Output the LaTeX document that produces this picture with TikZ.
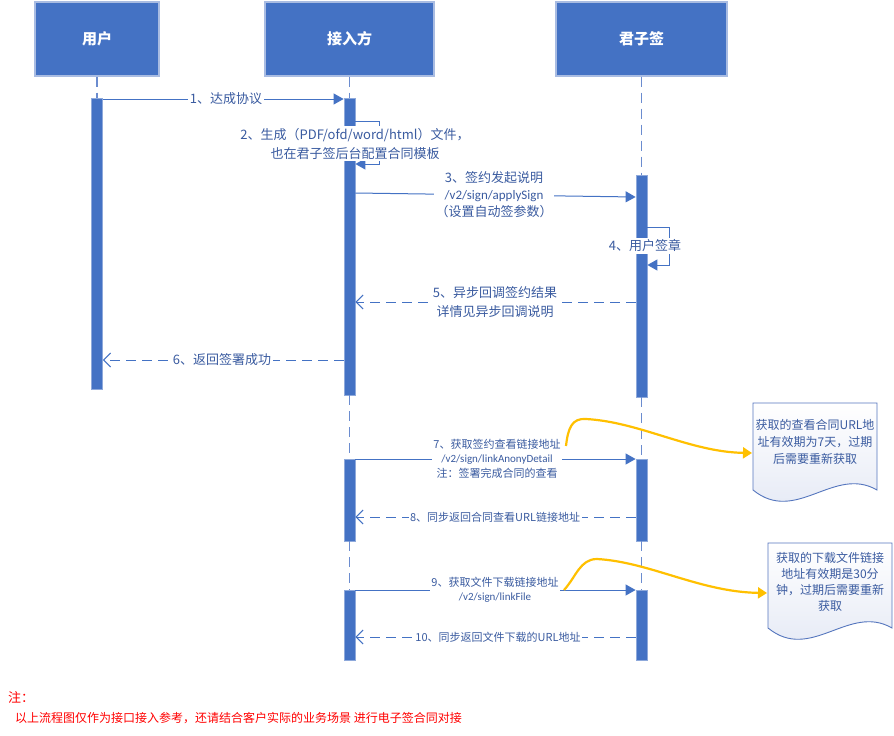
\documentclass[tikz,border=0pt]{standalone}
\usepackage{fontspec}
\setmainfont{Noto Sans CJK SC}
\newfontfamily\lat{Carlito}
\usetikzlibrary{arrows.meta}
\definecolor{hdr}{HTML}{4472C4}
\definecolor{hdrb}{HTML}{A9BCE2}
\definecolor{barb}{HTML}{8EA9DB}
\definecolor{txt}{HTML}{3A5BA0}
\definecolor{lnc}{HTML}{4472C4}
\definecolor{dsh}{HTML}{6B8CCF}
\definecolor{ylw}{HTML}{FFC000}
\definecolor{noteb}{HTML}{5576BE}
\definecolor{notebg}{HTML}{E2E7F4}
\begin{document}
\begin{tikzpicture}[x=1pt,y=-1pt,
  hdrbox/.style={draw=hdrb,line width=1.2pt,fill=hdr,text=white,inner sep=0pt,minimum height=74pt,font=\fontsize{15}{18}\selectfont\bfseries},
  actbar/.style={draw=barb,fill=hdr,line width=0.8pt,minimum width=11pt,inner sep=0pt},
  life/.style={draw=dsh,line width=1.3pt,dash pattern=on 10pt off 6pt},
  call/.style={draw=lnc,line width=1pt,-{Triangle[length=10pt,width=11pt]}},
  ret/.style={draw=lnc,line width=1pt,dash pattern=on 10pt off 6pt,-{Straight Barb[length=7pt,width=14pt]}},
  lbl/.style={fill=white,text=txt,inner sep=1.5pt,align=center,font=\fontsize{13}{19}\selectfont},
  slbl/.style={lbl,font=\fontsize{11}{14.5}\selectfont},
  notebox/.style={draw=noteb,line width=0.9pt,top color=white,bottom color=notebg},
  notetxt/.style={text=txt,align=center,font=\fontsize{12}{17}\selectfont},
  hint/.style={draw=ylw,line width=2.2pt,-{Triangle[length=9pt,width=11pt]}}
]
\useasboundingbox (0,0) rectangle (894,736);
\fill[white] (0,0) rectangle (894,736);

% headers
\node[hdrbox,minimum width=124pt] (h1) at (97,39) {用户};
\node[hdrbox,minimum width=169pt] (h2) at (349.5,39) {接入方};
\node[hdrbox,minimum width=171pt] (h3) at (641.5,39) {君子签};

% activation bars
\node[actbar,minimum height=291pt] (ub) at (97,243.5) {};
\node[actbar,minimum height=297pt] (jb1) at (349.5,246.5) {};
\node[actbar,minimum height=222pt] (kb1) at (641.5,286) {};
\node[actbar,minimum height=82pt] (jb2) at (349.5,500) {};
\node[actbar,minimum height=82pt] (kb2) at (641.5,500) {};
\node[actbar,minimum height=70pt] (jb3) at (349.5,625) {};
\node[actbar,minimum height=70pt] (kb3) at (641.5,625) {};

% lifelines
\draw[life] (h1.south) -- (ub.north);
\draw[life] (h2.south) -- (jb1.north);
\draw[life] (jb1.south) -- (jb2.north);
\draw[life] (jb2.south) -- (jb3.north);
\draw[life] (h3.south) -- (kb1.north);
\draw[life] (kb1.south) -- (kb2.north);
\draw[life] (kb2.south) -- (kb3.north);

% 1
\draw[call] (ub.east |- 0,99) -- (jb1.west |- 0,99);
\node[lbl] (m1) at (226,99) {1、达成协议};
% 2
\draw[call] (jb1.east |- 0,121) -- (379,121) -- (379,164) -- (jb1.east |- 0,164);
\node[lbl] (m2) at (355,143.5) {2、生成（PDF/ofd/word/html）文件，\\也在君子签后台配置合同模板};
% 3
\draw[call] (jb1.east |- 0,193) -- (kb1.west |- 0,197);
\node[lbl,font=\fontsize{13}{17}\selectfont] (m3) at (494,195) {3、签约发起说明\\{\lat /v2/sign/applySign}\\（设置自动签参数）};
% 4
\draw[call] (kb1.east |- 0,227) -- (669,227) -- (669,265) -- (kb1.east |- 0,265);
\node[lbl] (m4) at (645,246) {4、用户签章};
% 5
\draw[ret] (kb1.west |- 0,302) -- (jb1.east |- 0,302);
\node[lbl] (m5) at (495,302.5) {5、异步回调签约结果\\详情见异步回调说明};
% 6
\draw[ret] (jb1.west |- 0,360) -- (ub.east |- 0,360);
\node[lbl] (m6) at (222,360) {6、返回签署成功};
% 7
\draw[call] (jb2.east |- 0,459) -- (kb2.west |- 0,459);
\node[slbl] (m7) at (497,458.5) {7、获取签约查看链接地址\\{\lat /v2/sign/linkAnonyDetail}\\注：签署完成合同的查看};
% 8
\draw[ret] (kb2.west |- 0,517) -- (jb2.east |- 0,517);
\node[slbl] (m8) at (495,517) {8、同步返回合同查看URL链接地址};
% 9
\draw[call] (jb3.east |- 0,590) -- (kb3.west |- 0,590);
\node[slbl,font=\fontsize{11}{14}\selectfont] (m9) at (495,590) {9、获取文件下载链接地址\\{\lat /v2/sign/linkFile}};
% 10
\draw[ret] (kb3.west |- 0,637) -- (jb3.east |- 0,637);
\node[slbl] (m10) at (498,637) {10、同步返回文件下载的URL地址};

% notes
\path[notebox] (753,403) -- (877,403) -- (877,490) .. controls (834,465) and (796,525) .. (753,490) -- cycle;
\node[notetxt] (n1) at (815,442) {获取的查看合同URL地\\址有效期为7天，过期\\后需要重新获取};
\path[notebox] (768,543) -- (892,543) -- (892,628) .. controls (849,603) and (811,663) .. (768,628) -- cycle;
\node[notetxt,font=\fontsize{12}{16}\selectfont] (n2) at (830,581.5) {获取的下载文件链接\\地址有效期是30分\\钟，过期后需要重新\\获取};
\coordinate (n1w) at (752,453);
\coordinate (n2w) at (767,593);

% hints
\coordinate (y1s) at (566,446);
\coordinate (y2s) at (564,590);
\draw[hint] (y1s) .. controls (568,428) and (572,418) .. (586,419) .. controls (640,422) and (690,452) .. (n1w);
\draw[hint] (y2s) .. controls (576,577) and (580,559) .. (597,559) .. controls (650,562) and (700,592) .. (n2w);

% bottom note
\node[anchor=west,text=red,inner sep=0pt,font=\fontsize{13}{15}\selectfont] (t1) at (8,697) {注：};
\node[anchor=west,text=red,inner sep=0pt,font=\fontsize{12}{14}\selectfont] (t2) at (15,718) {以上流程图仅作为接口接入参考，还请结合客户实际的业务场景 进行电子签合同对接};
\end{tikzpicture}
\end{document}
